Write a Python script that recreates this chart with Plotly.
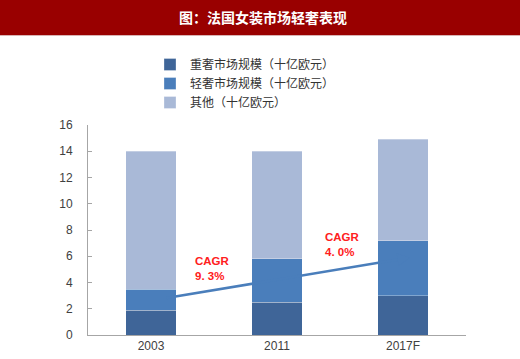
import plotly.graph_objects as go

categories = ["2003", "2011", "2017F"]
heavy_lux = [1.9, 2.5, 3.0]
light_lux = [1.6, 3.3, 4.2]
others = [10.5, 8.2, 7.7]
series_names = ["重奢市场规模（十亿欧元）", "轻奢市场规模（十亿欧元）", "其他（十亿欧元）"]
colors = ["#3F6598", "#4A7EBB", "#A9B9D7"]
y_ticks = [0, 2, 4, 6, 8, 10, 12, 14, 16]
cagr_labels = ["CAGR<br>9. 3%", "CAGR<br>4. 0%"]
title_text = "图：法国女装市场轻奢表现"

fig = go.Figure()
for name, vals, col in zip(series_names, [heavy_lux, light_lux, others], colors):
    fig.add_trace(go.Bar(
        x=list(range(len(categories))), y=vals, name=name,
        marker=dict(color=col, line=dict(color="rgba(255,255,255,0.5)", width=0.6)),
        width=0.4,
    ))

# title band
fig.add_shape(type="rect", xref="paper", yref="paper",
              x0=-0.24, x1=1.15, y0=(335 - 35) / 210, y1=1.62,
              fillcolor="#990000", line=dict(width=0), layer="above")
fig.add_shape(type="line", xref="paper", yref="paper",
              x0=-0.24, x1=1.15, y0=(335 - 35.5) / 210, y1=(335 - 35.5) / 210,
              line=dict(color="#D9B3B3", width=1), layer="above")
fig.add_annotation(xref="paper", yref="paper", x=(263 - 88) / 378, y=(335 - 17) / 210,
                   text="<b>" + title_text + "</b>", showarrow=False,
                   font=dict(family="Noto Sans CJK SC", size=14, color="white"),
                   xanchor="center", yanchor="middle")

# CAGR arrow
fig.add_annotation(x=2.056, y=5.9, ax=0.11, ay=2.8, xref="x", yref="y", axref="x", ayref="y",
                   text="", showarrow=True, arrowhead=2, arrowsize=1.0, arrowwidth=2.5,
                   arrowcolor="#4A7EBB")
fig.add_annotation(x=0.335, y=5.04, xref="x", yref="y", text="<b>" + cagr_labels[0] + "</b>",
                   showarrow=False, align="left", xanchor="left", yanchor="middle",
                   font=dict(family="Liberation Sans", size=11.5, color="#FF2020"))
fig.add_annotation(x=1.365, y=6.87, xref="x", yref="y", text="<b>" + cagr_labels[1] + "</b>",
                   showarrow=False, align="left", xanchor="left", yanchor="middle",
                   font=dict(family="Liberation Sans", size=11.5, color="#FF2020"))

fig.update_layout(
    barmode="stack",
    width=520, height=359,
    margin=dict(l=88, r=54, t=125, b=24, autoexpand=False),
    paper_bgcolor="white", plot_bgcolor="white",
    showlegend=True,
    legend=dict(x=150 / 520, y=(359 - 50) / 359, xref="container", yref="container",
                xanchor="left", yanchor="top",
                traceorder="normal", font=dict(family="Noto Sans CJK SC", size=12, color="#333333"),
                bgcolor="rgba(0,0,0,0)", itemclick=False),
    xaxis=dict(range=[-0.5, 2.5], tickmode="array", tickvals=list(range(len(categories))),
               ticktext=categories, showline=True, linecolor="#A6A6A6", linewidth=1,
               ticks="", showgrid=False, zeroline=False, automargin=False,
               tickfont=dict(family="Liberation Sans", size=12, color="#404040")),
    yaxis=dict(range=[0, 16], tickvals=y_ticks, showline=True, linecolor="#A6A6A6",
               linewidth=1, ticks="inside", ticklen=4, tickcolor="#A6A6A6", showgrid=False,
               zeroline=False, ticklabelstandoff=12, automargin=False,
               tickfont=dict(family="Liberation Sans", size=12, color="#404040")),
)

fig.write_html("out.html", config={"displayModeBar": False},
               post_script="document.body.style.margin='0px';")
